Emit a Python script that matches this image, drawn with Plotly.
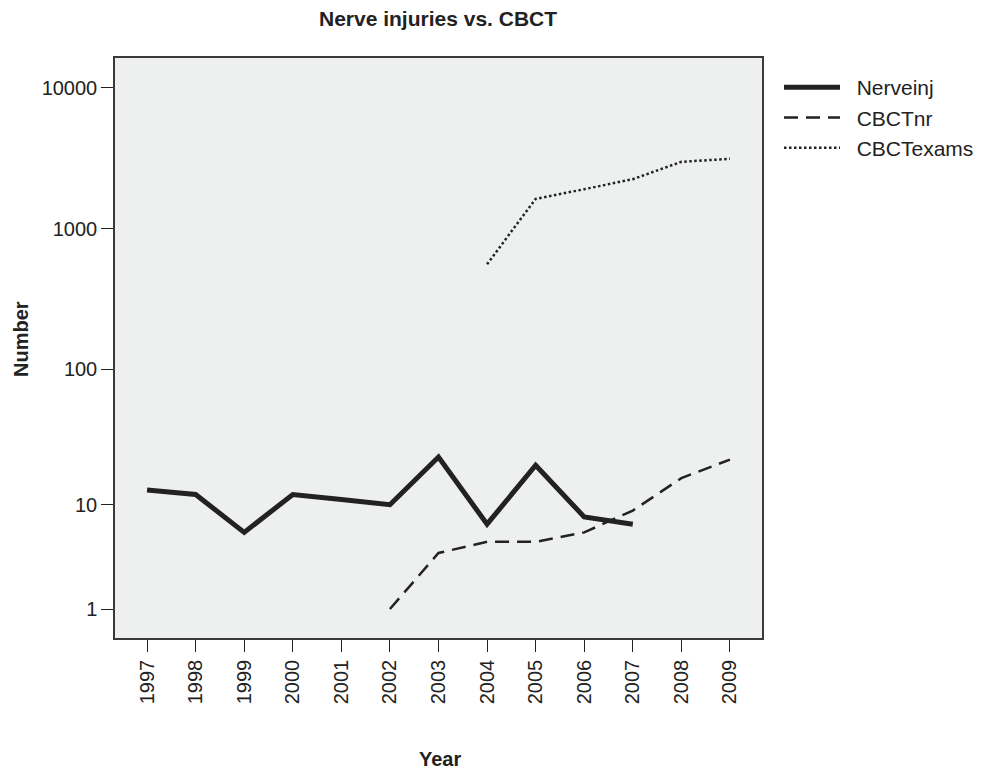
import plotly.graph_objects as go

years = [1997, 1998, 1999, 2000, 2001, 2002, 2003, 2004, 2005, 2006, 2007, 2008, 2009]
year_labels = [str(y) for y in years]

nerve_years = [1997, 1998, 1999, 2000, 2001, 2002, 2003, 2004, 2005, 2006, 2007]
nerveinj = [13, 12, 6, 12, 11, 10, 23, 7, 20, 8, 7]

cbctnr_years = [2002, 2003, 2004, 2005, 2006, 2007, 2008, 2009]
cbctnr = [1, 4, 5, 5, 6, 9, 16, 22]

exams_years = [2004, 2005, 2006, 2007, 2008, 2009]
cbctexams = [560, 1630, 1910, 2250, 2990, 3140]

y_ticks = [1, 10, 100, 1000, 10000]
y_tick_labels = ["1", "10", "100", "1000", "10000"]

# safe-log scale: values are plotted as log10(value + 1)
def shift(vals):
    return [v + 1 for v in vals]

INK = "#222222"
FONT = "Liberation Sans, Arial, sans-serif"
NB = "\u00a0\u00a0"

# page has an 8px body margin; figure is sized to fill the rest of the window
OFF = 8
W, H = 982 - OFF, 769 - OFF
ML, MR, MT, MB = 115 - OFF, 220, 58 - OFF, 131

def cx(x):
    return (x - OFF) / W

def cy(y):
    return 1 - (y - OFF) / H

fig = go.Figure()
fig.add_trace(go.Scatter(x=nerve_years, y=shift(nerveinj), name=NB + "Nerveinj", mode="lines",
                         line=dict(color=INK, width=5)))
fig.add_trace(go.Scatter(x=cbctnr_years, y=shift(cbctnr), name=NB + "CBCTnr", mode="lines",
                         line=dict(color=INK, width=2.5, dash="14px,8px")))
fig.add_trace(go.Scatter(x=exams_years, y=shift(cbctexams), name=NB + "CBCTexams", mode="lines",
                         line=dict(color=INK, width=2.5, dash="2.5px,2.5px")))

fig.update_layout(
    width=W, height=H, autosize=False,
    margin=dict(l=ML, r=MR, t=MT, b=MB, autoexpand=False),
    paper_bgcolor="white", plot_bgcolor="#EEF0EF",
    font=dict(family=FONT, size=20, color=INK),
    showlegend=True,
    legend=dict(xref="container", yref="container", x=cx(779), y=cy(67),
                xanchor="left", yanchor="top",
                font=dict(size=21, color=INK), itemwidth=56,
                bgcolor="rgba(0,0,0,0)", tracegroupgap=0),
    annotations=[
        dict(text="<b>Nerve injuries vs. CBCT</b>", x=cx(438), y=cy(18),
             xref="paper", yref="paper", showarrow=False,
             font=dict(size=21, color=INK), xanchor="center", yanchor="middle"),
        dict(text="<b>Number</b>", x=cx(21), y=cy(339), xref="paper", yref="paper",
             showarrow=False, textangle=-90, font=dict(size=20, color=INK),
             xanchor="center", yanchor="middle"),
        dict(text="<b>Year</b>", x=cx(440), y=cy(759), xref="paper", yref="paper",
             showarrow=False, font=dict(size=20, color=INK), xanchor="center", yanchor="middle"),
    ],
)
# annotations positioned in paper coords relative to the plot area
pw = W - ML - MR
ph = H - MT - MB
for a in fig.layout.annotations:
    px = a.x * W
    py = (1 - a.y) * H
    a.x = (px - ML) / pw
    a.y = (H - MB - py) / ph

fig.update_xaxes(
    range=[1996.34, 2009.66], tickmode="array", tickvals=years, ticktext=year_labels,
    tickangle=-90, ticks="outside", ticklen=12, tickwidth=1.3, tickcolor=INK,
    showgrid=False, zeroline=False, showline=True, linecolor="#3a3a3a", linewidth=1.5,
    mirror=True, tickfont=dict(size=20, color=INK), ticklabelstandoff=0,
)
fig.update_yaxes(
    type="log", range=[0.0953, 4.2128], tickmode="array",
    tickvals=shift(y_ticks), ticktext=y_tick_labels,
    ticks="outside", ticklen=12, tickwidth=1.3, tickcolor=INK,
    showgrid=False, zeroline=False, showline=True, linecolor="#3a3a3a", linewidth=1.5,
    mirror=True, tickfont=dict(size=20, color=INK),
)

fig.write_html("out.html")
